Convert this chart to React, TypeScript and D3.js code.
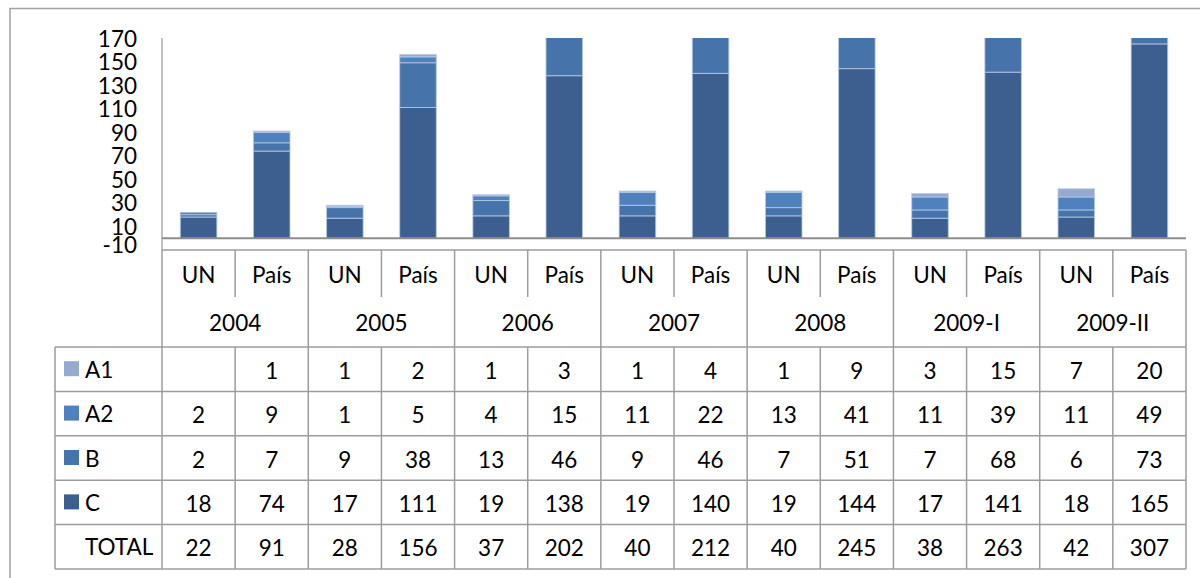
import React from "react";
import * as d3 from "d3";

const years = ["2004", "2005", "2006", "2007", "2008", "2009-I", "2009-II"];
const subCats = ["UN", "País"];
const seriesNames = ["A1", "A2", "B", "C"];
const A1: (number | null)[] = [null, 1, 1, 2, 1, 3, 1, 4, 1, 9, 3, 15, 7, 20];
const A2 = [2, 9, 1, 5, 4, 15, 11, 22, 13, 41, 11, 39, 11, 49];
const B = [2, 7, 9, 38, 13, 46, 9, 46, 7, 51, 7, 68, 6, 73];
const C = [18, 74, 17, 111, 19, 138, 19, 140, 19, 144, 17, 141, 18, 165];
const TOTAL = [22, 91, 28, 156, 37, 202, 40, 212, 40, 245, 38, 263, 42, 307];
const yTicks = [-10, 10, 30, 50, 70, 90, 110, 130, 150, 170];

const colors: Record<string, string> = {
  A1: "#95a9d1",
  A2: "#4f81bd",
  B: "#4673a9",
  C: "#3c5f8f",
};

const seriesData: Record<string, (number | null)[]> = { A1, A2, B, C };

export default function App() {
  const W = 1200;
  const H = 578;
  const font = "Lato, 'Open Sans', sans-serif";
  const fs = 22.5;
  const plotLeft = 162;
  const plotRight = 1186;
  const plotTop = 38;
  const tableTop = 250;
  const legendLeft = 55;
  const rowYear = 297;
  const rowData = 347;
  const rowH = 44.4;
  const gridColor = "#9c9c9c";

  const n = TOTAL.length;
  const idx = d3.range(n).map(String);
  const y = d3.scaleLinear().domain([-10, 170]).range([tableTop, plotTop]);
  const xBar = d3
    .scaleBand<string>()
    .domain(idx)
    .range([plotLeft, plotRight])
    .paddingInner(0.5)
    .paddingOuter(0.25);
  const xCol = d3.scaleBand<string>().domain(idx).range([plotLeft, plotRight]);
  const step = xCol.step();

  // stack order bottom->top: C, B, A2, A1
  const stackKeys = ["C", "B", "A2", "A1"];
  const rows = d3.range(n).map((i) => {
    const o: any = { i };
    stackKeys.forEach((k) => (o[k] = seriesData[k][i] ?? 0));
    return o;
  });
  const stacked = d3.stack<any>().keys(stackKeys)(rows);

  const tableRows = [
    { label: "A1", values: A1, swatch: true },
    { label: "A2", values: A2, swatch: true },
    { label: "B", values: B, swatch: true },
    { label: "C", values: C, swatch: true },
    { label: "TOTAL", values: TOTAL, swatch: false },
  ];
  const tableBottom = rowData + rowH * tableRows.length;

  return (
    <svg
      width={W}
      height={H}
      style={{ position: "absolute", left: 0, top: 0, background: "#fff" }}
      fontFamily={font}
    >
      <rect width={W} height={H} fill="#fff" />
      {/* outer frame */}
      <path d={`M10,${H} V8.5 H${W}`} fill="none" stroke="#a3a3a3" strokeWidth={1.5} />

      <defs>
        <clipPath id="plotClip">
          <rect x={plotLeft} y={plotTop} width={plotRight - plotLeft} height={y(0) - plotTop} />
        </clipPath>
      </defs>

      {/* bars */}
      <g clipPath="url(#plotClip)">
        {stacked.map((s) =>
          s.map((d, i) => {
            const h = y(d[0]) - y(d[1]);
            if (h <= 0) return null;
            return (
              <rect
                key={s.key + i}
                x={xBar(String(i))}
                y={y(d[1])}
                width={xBar.bandwidth()}
                height={h}
                fill={colors[s.key]}
                stroke="#b8cbe6"
                strokeWidth={1}
                strokeOpacity={0.8}
              />
            );
          })
        )}
      </g>

      {/* y axis */}
      <line x1={plotLeft} x2={plotLeft} y1={plotTop} y2={tableTop} stroke={gridColor} strokeWidth={1.25} />
      {yTicks.map((t) => (
        <text
          key={t}
          x={137}
          y={t === -10 ? y(t) - 6 : y(t)}
          textAnchor="end"
          dominantBaseline="central"
          fontSize={fs}
          fill="#000"
        >
          {t}
        </text>
      ))}
      {/* x axis line */}
      <line x1={plotLeft} x2={plotRight} y1={y(0)} y2={y(0)} stroke="#8c8c8c" strokeWidth={2} />

      {/* data table grid */}
      <g stroke={gridColor} strokeWidth={1.5} fill="none">
        <line x1={plotLeft} x2={plotRight} y1={tableTop} y2={tableTop} />
        <line x1={plotLeft} x2={plotLeft} y1={tableTop} y2={tableBottom} />
        <line x1={plotRight} x2={plotRight} y1={tableTop} y2={tableBottom} />
        {d3.range(1, n).map((i) => (
          <line
            key={"v1" + i}
            x1={xCol(String(i))}
            x2={xCol(String(i))}
            y1={tableTop}
            y2={rowYear}
          />
        ))}
        {d3.range(2, n, 2).map((i) => (
          <line
            key={"v2" + i}
            x1={xCol(String(i))}
            x2={xCol(String(i))}
            y1={rowYear}
            y2={rowData}
          />
        ))}
        {d3.range(1, n).map((i) => (
          <line
            key={"v3" + i}
            x1={xCol(String(i))}
            x2={xCol(String(i))}
            y1={rowData}
            y2={tableBottom}
          />
        ))}
        <line x1={legendLeft} x2={legendLeft} y1={rowData} y2={tableBottom} />
        {d3.range(tableRows.length + 1).map((r) => (
          <line
            key={"h" + r}
            x1={legendLeft}
            x2={plotRight}
            y1={rowData + r * rowH}
            y2={rowData + r * rowH}
          />
        ))}
      </g>

      {/* sub category labels */}
      {idx.map((k, i) => (
        <text
          key={"sc" + i}
          x={(xCol(k) as number) + step / 2}
          y={(tableTop + rowYear) / 2 + 1}
          textAnchor="middle"
          dominantBaseline="central"
          fontSize={fs}
        >
          {subCats[i % 2]}
        </text>
      ))}
      {/* year labels */}
      {years.map((yr, j) => (
        <text
          key={yr}
          x={(xCol(String(j * 2)) as number) + step}
          y={(rowYear + rowData) / 2}
          textAnchor="middle"
          dominantBaseline="central"
          fontSize={fs}
        >
          {yr}
        </text>
      ))}

      {/* table rows */}
      {tableRows.map((row, r) => {
        const cy = rowData + r * rowH + rowH / 2;
        return (
          <g key={row.label}>
            {row.swatch && (
              <rect x={64} y={cy - 8} width={15} height={15} fill={colors[row.label]} />
            )}
            <text x={85} y={cy} dominantBaseline="central" fontSize={fs}>
              {row.label}
            </text>
            {row.values.map((v, i) =>
              v == null ? null : (
                <text
                  key={i}
                  x={(xCol(String(i)) as number) + step / 2}
                  y={cy + 1}
                  textAnchor="middle"
                  dominantBaseline="central"
                  fontSize={fs}
                >
                  {v}
                </text>
              )
            )}
          </g>
        );
      })}
    </svg>
  );
}
